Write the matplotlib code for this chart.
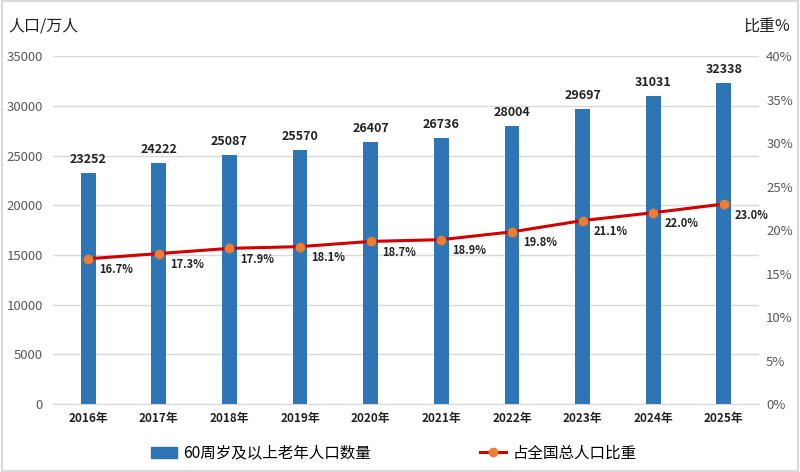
import numpy as np
import matplotlib.pyplot as plt
from matplotlib.lines import Line2D
from matplotlib.patches import Rectangle

plt.rcParams['font.family'] = ['Noto Sans CJK SC', 'DejaVu Sans']

# data
years = ['2016年', '2017年', '2018年', '2019年', '2020年',
         '2021年', '2022年', '2023年', '2024年', '2025年']
elderly = [23252, 24222, 25087, 25570, 26407, 26736, 28004, 29697, 31031, 32338]
share = [16.7, 17.3, 17.9, 18.1, 18.7, 18.9, 19.8, 21.1, 22.0, 23.0]

bar_color = '#2E75B6'
line_color = '#D00000'
marker_color = '#ED7D31'
tick_gray = '#595959'

fig = plt.figure(figsize=(8, 4.72), dpi=100)
ax = fig.add_axes([0.066, 0.144, 0.883, 0.737])
ax2 = ax.twinx()

x = np.arange(len(years))
ax.bar(x, elderly, width=0.21, color=bar_color, zorder=2)
for xi, v in zip(x, elderly):
    ax.annotate(str(v), (xi, v), xytext=(0, 5), textcoords='offset points',
                ha='center', va='bottom', fontsize=9, fontweight='bold',
                color='#222222')

ax.set_xlim(-0.5, len(years) - 0.5)
ax.set_ylim(0, 35000)
ax.set_yticks(np.arange(0, 35001, 5000))
ax.set_xticks(x)
ax.set_xticklabels(years, fontsize=8.5, fontweight='bold', color='#222222')
ax.tick_params(axis='y', labelsize=9.5, labelcolor=tick_gray, length=0, pad=7)
ax.tick_params(axis='x', length=0, pad=6)
ax.grid(axis='y', color='#D9D9D9', linewidth=1, zorder=0)
ax.set_axisbelow(True)
for s in ['top', 'left', 'right']:
    ax.spines[s].set_visible(False)
ax.spines['bottom'].set_color('#D9D9D9')

ax2.plot(x, share, color=line_color, linewidth=2.2, marker='o',
         markersize=6, markerfacecolor=marker_color,
         markeredgecolor=marker_color, zorder=3)
for xi, v in zip(x, share):
    ax2.annotate(f'{v:.1f}%', (xi, v), xytext=(8, -8), textcoords='offset points',
                 ha='left', va='center', fontsize=8, fontweight='bold',
                 color='#222222')
ax2.set_ylim(0, 40)
ax2.set_yticks(np.arange(0, 41, 5))
ax2.set_yticklabels([f'{t}%' for t in range(0, 41, 5)])
ax2.tick_params(axis='y', labelsize=9.5, labelcolor=tick_gray, length=0, pad=5)
for s in ['top', 'left', 'right', 'bottom']:
    ax2.spines[s].set_visible(False)

fig.text(0.010, 0.945, '人口/万人', fontsize=11.5, ha='left', va='center', color='#222222')
fig.text(0.988, 0.945, '比重%', fontsize=11.5, ha='right', va='center', color='#222222')

handles = [
    Rectangle((0, 0), 1, 1, color=bar_color),
    Line2D([0], [0], color=line_color, linewidth=2.2, marker='o', markersize=6,
           markerfacecolor=marker_color, markeredgecolor=marker_color),
]
fig.legend(handles, ['60周岁及以上老年人口数量', '占全国总人口比重'],
           loc='center', bbox_to_anchor=(0.492, 0.04), ncol=2, frameon=False,
           fontsize=11.2, columnspacing=7.0, handlelength=1.7, handletextpad=0.4)

fig.patches.append(Rectangle((0.002, 0.003), 0.996, 0.994, transform=fig.transFigure,
                             fill=False, edgecolor='#D9D9D9', linewidth=1.5))

fig.savefig('out.png', dpi=100)
